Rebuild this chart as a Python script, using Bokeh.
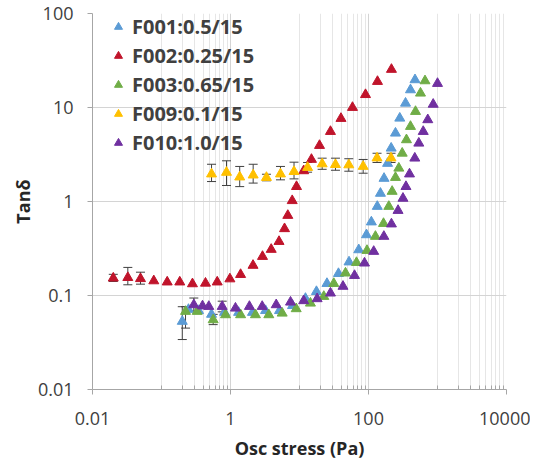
from bokeh.plotting import figure
from bokeh.models import (ColumnDataSource, Whisker, TeeHead, FixedTicker, Legend,
                          LegendItem, CustomJSTickFormatter)
from bokeh.embed import file_html
from bokeh.resources import INLINE

# ---------------- data ----------------
f001_x = [0.20, 0.246, 0.344, 0.531, 0.819, 1.31, 2.08, 3.22, 5.13, 7.92, 12.2, 17.6, 25.0, 36.7,
          52.2, 72.3, 93.5, 110, 134, 149, 168, 189, 213, 246, 284, 344, 406, 472]
f001_y = [0.053, 0.071, 0.069, 0.063, 0.066, 0.066, 0.066, 0.069, 0.069, 0.078, 0.093, 0.110, 0.134, 0.171,
          0.227, 0.306, 0.442, 0.605, 0.885, 1.22, 1.76, 2.54, 3.69, 5.33, 7.69, 11.1, 15.4, 19.7]

f002_x = [0.020, 0.0325, 0.0496, 0.0773, 0.121, 0.184, 0.281, 0.434, 0.642, 0.98, 1.40, 2.12, 2.91, 3.89,
          5.05, 6.07, 6.77, 7.84, 9.05, 11.5, 14.9, 19.5, 28.1, 39.9, 58.6, 90.5, 135, 215]
f002_y = [0.153, 0.155, 0.151, 0.143, 0.139, 0.139, 0.133, 0.135, 0.139, 0.150, 0.167, 0.209, 0.260, 0.309,
          0.375, 0.513, 0.710, 1.02, 1.44, 2.12, 2.80, 3.94, 5.55, 7.64, 10.0, 13.7, 18.9, 25.4]

f003_x = [0.223, 0.329, 0.561, 0.847, 1.40, 2.30, 3.59, 5.61, 8.96, 14.4, 22.5, 31.4, 46.4, 67.0,
          95.1, 126, 165, 197, 220, 246, 275, 308, 355, 406, 480, 567, 659]
f003_y = [0.0676, 0.0676, 0.0551, 0.0623, 0.0623, 0.0623, 0.0623, 0.0648, 0.0722, 0.0828, 0.0976, 0.134,
          0.173, 0.224, 0.301, 0.425, 0.583, 0.885, 1.28, 1.80, 2.26, 3.26, 4.53, 6.28, 9.06, 14.2, 19.2]

f009_x = [0.531, 0.875, 1.36, 2.13, 3.32, 5.30, 8.33, 13.1, 21.3, 33.2, 51.8, 83.7, 133, 212]
f009_y = [1.96, 2.04, 1.82, 1.91, 1.80, 1.96, 2.08, 2.30, 2.51, 2.47, 2.45, 2.36, 2.90, 2.90]

f010_x = [0.294, 0.393, 0.485, 0.758, 1.18, 1.88, 2.88, 4.60, 7.41, 11.5, 18.0, 28.1, 42.7, 62.7,
          87.5, 119, 167, 215, 268, 316, 349, 393, 469, 536, 621, 723, 866, 1000]
f010_y = [0.0796, 0.0773, 0.0764, 0.0764, 0.0733, 0.0764, 0.0764, 0.0796, 0.0849, 0.0879, 0.0923, 0.106,
          0.125, 0.163, 0.221, 0.294, 0.425, 0.576, 0.802, 1.08, 1.44, 1.96, 2.89, 4.17, 5.55, 7.40, 10.8, 18.0]

# error bars (x, lower, upper)
f001_err_x = [0.20]
f001_err_lo = [0.034]
f001_err_hi = [0.076]
f002_err_x = [0.020, 0.0325, 0.0496]
f002_err_lo = [0.141, 0.130, 0.132]
f002_err_hi = [0.168, 0.199, 0.177]
f003_err_x = [0.223, 0.561]
f003_err_lo = [0.045, 0.049]
f003_err_hi = [0.076, 0.063]
f009_err_x = f009_x
f009_err_lo = [1.63, 1.48, 1.44, 1.57, 1.66, 1.70, 1.74, 2.05, 2.20, 2.15, 2.10, 2.00, 2.60, 2.60]
f009_err_hi = [2.49, 2.71, 2.36, 2.49, 1.95, 2.36, 2.62, 2.60, 2.89, 2.89, 2.85, 2.80, 3.26, 3.26]
f010_err_x = [0.294, 0.758]
f010_err_lo = [0.068, 0.067]
f010_err_hi = [0.094, 0.087]

labels = ["F001:0.5/15", "F002:0.25/15", "F003:0.65/15", "F009:0.1/15", "F010:1.0/15"]
colors = ["#5B9BD5", "#C0142B", "#70AD47", "#FFC000", "#7030A0"]

x_major = [0.01, 1, 100, 10000]
x_minor = [0.1, 0.2, 0.3, 0.4, 0.5, 0.6, 0.7, 0.8, 0.9,
           10, 20, 30, 40, 50, 60, 70, 80, 90,
           1000, 2000, 3000, 4000, 5000, 6000, 7000, 8000, 9000]
y_major = [0.01, 0.1, 1, 10, 100]

x_title = "Osc stress (Pa)"
y_title = "Tanδ"

FONT = "Open Sans"

# ---------------- figure ----------------
W, H = 530, 462
BL, BR, BT, BB = 92, 24, 13, 73
FH = H - BT - BB

p = figure(width=W, height=H, x_axis_type="log", y_axis_type="log",
           x_range=(0.01, 10000), y_range=(0.01, 100),
           output_backend="svg", toolbar_location=None,
           min_border_left=BL, min_border_right=BR, min_border_top=BT, min_border_bottom=BB)
p.outline_line_color = None
p.background_fill_color = "white"

p.xaxis.ticker = FixedTicker(ticks=x_major, minor_ticks=x_minor)
p.yaxis.ticker = FixedTicker(ticks=y_major, minor_ticks=[])
p.xaxis.formatter = CustomJSTickFormatter(code="return tick.toString();")
p.yaxis.formatter = CustomJSTickFormatter(code="return tick.toString();")

for ax in (p.xaxis[0], p.yaxis[0]):
    ax.axis_line_color = "#A6A6A6"
    ax.major_tick_line_color = "#A6A6A6"
    ax.minor_tick_line_color = "#A6A6A6"
    ax.major_tick_in = 0
    ax.major_tick_out = 5
    ax.major_label_text_font = FONT
    ax.major_label_text_font_size = "18px"
    ax.major_label_text_color = "#404040"
    ax.axis_label_text_font = FONT
    ax.axis_label_text_font_size = "18px"
    ax.axis_label_text_font_style = "bold"
    ax.axis_label_text_color = "#262626"

p.xaxis.minor_tick_in = 4
p.xaxis.minor_tick_out = 0
p.yaxis.minor_tick_line_color = None
p.xaxis.major_label_standoff = 17
p.yaxis.major_label_standoff = 14
p.xaxis.axis_label = x_title
p.yaxis.axis_label = y_title
p.xaxis.axis_label_standoff = 8
p.yaxis.axis_label_standoff = 0

p.xgrid.grid_line_color = "#D4D4D4"
p.xgrid.minor_grid_line_color = "#E6E6E6"
p.ygrid.grid_line_color = "#D4D4D4"

series = [
    (f001_x, f001_y, f001_err_x, f001_err_lo, f001_err_hi),
    (f002_x, f002_y, f002_err_x, f002_err_lo, f002_err_hi),
    (f003_x, f003_y, f003_err_x, f003_err_lo, f003_err_hi),
    (f009_x, f009_y, f009_err_x, f009_err_lo, f009_err_hi),
    (f010_x, f010_y, f010_err_x, f010_err_lo, f010_err_hi),
]

items = []
for (sx, sy, ex, elo, ehi), lab, col in zip(series, labels, colors):
    src = ColumnDataSource(dict(x=sx, y=sy))
    r = p.scatter("x", "y", source=src, marker="triangle", size=10,
                  fill_color=col, line_color=col, line_width=1)
    esrc = ColumnDataSource(dict(x=ex, lo=elo, hi=ehi))
    w = Whisker(source=esrc, base="x", lower="lo", upper="hi",
                line_color="#404040", line_width=1,
                lower_head=TeeHead(size=9, line_color="#404040", line_width=1),
                upper_head=TeeHead(size=9, line_color="#404040", line_width=1))
    p.add_layout(w)
    items.append(LegendItem(label=lab, renderers=[r]))

n = len(items)
ITEM_H, GAP = 27, 2
leg_h = n * ITEM_H + (n - 1) * GAP
legend = Legend(items=items, location=(16, FH - leg_h), orientation="vertical",
                padding=0, margin=0, spacing=GAP,
                glyph_width=20, glyph_height=ITEM_H, label_height=ITEM_H, label_standoff=4,
                label_text_font=FONT, label_text_font_size="20px",
                label_text_font_style="bold", label_text_color="#404040",
                border_line_color=None, background_fill_alpha=0)
p.add_layout(legend)

open("out.html", "w").write(file_html(p, INLINE))
